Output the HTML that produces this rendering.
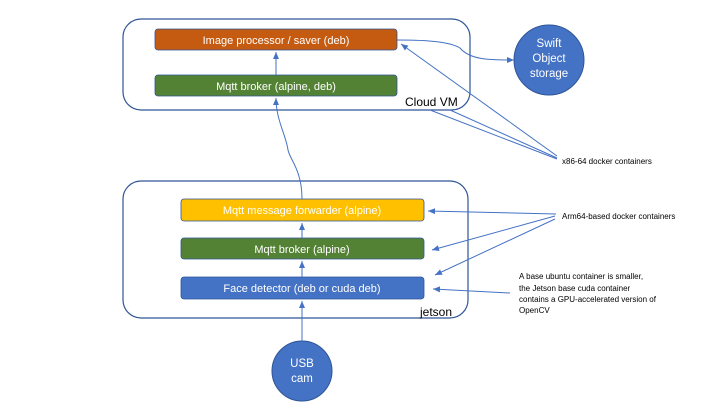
<!DOCTYPE html>
<html><head><meta charset="utf-8"><style>
html,body{margin:0;padding:0;background:#fff;}
svg{display:block;font-family:"Liberation Sans",sans-serif;}
</style></head><body>
<svg width="720" height="405" viewBox="0 0 720 405" xmlns="http://www.w3.org/2000/svg">
<defs>
<marker id="a" markerWidth="8" markerHeight="8" refX="7" refY="4" orient="auto" markerUnits="userSpaceOnUse">
<path d="M0,1 L7,4 L0,7 z" fill="#4472C4"/></marker>
</defs>
<rect x="123" y="19" width="347" height="91" rx="18" fill="#fff" stroke="#2F5597" stroke-width="1.2"/>
<rect x="123" y="181" width="345" height="137" rx="18" fill="#fff" stroke="#2F5597" stroke-width="1.2"/>
<rect x="155" y="29" width="242" height="21" rx="3" fill="#C55A11" stroke="#2F5597" stroke-width="0.8"/>
<text x="276" y="44" font-size="11" fill="#fff" text-anchor="middle">Image processor / saver (deb)</text>
<rect x="155" y="75" width="242" height="21" rx="3" fill="#548235" stroke="#2F5597" stroke-width="0.8"/>
<text x="276" y="90" font-size="11" fill="#fff" text-anchor="middle">Mqtt broker (alpine, deb)</text>
<text x="405" y="106" font-size="12" fill="#000">Cloud VM</text>
<circle cx="549" cy="60" r="35" fill="#4472C4" stroke="#2F5597"/>
<text x="549" y="47" font-size="11.5" fill="#fff" text-anchor="middle">Swift</text>
<text x="549" y="62" font-size="11.5" fill="#fff" text-anchor="middle">Object</text>
<text x="549" y="77" font-size="11.5" fill="#fff" text-anchor="middle">storage</text>
<rect x="181" y="199" width="243" height="22" rx="3" fill="#FFC000" stroke="#2F5597" stroke-width="0.8"/>
<text x="302" y="214" font-size="11" fill="#fff" text-anchor="middle">Mqtt message forwarder (alpine)</text>
<rect x="181" y="238" width="243" height="21" rx="3" fill="#548235" stroke="#2F5597" stroke-width="0.8"/>
<text x="302" y="253" font-size="11" fill="#fff" text-anchor="middle">Mqtt broker (alpine)</text>
<rect x="181" y="277" width="243" height="22" rx="3" fill="#4472C4" stroke="#2F5597" stroke-width="0.8"/>
<text x="302" y="292" font-size="11" fill="#fff" text-anchor="middle">Face detector (deb or cuda deb)</text>
<text x="420" y="316" font-size="12" fill="#000">jetson</text>
<circle cx="302" cy="371" r="30" fill="#4472C4" stroke="#2F5597"/>
<text x="302" y="367" font-size="11.5" fill="#fff" text-anchor="middle">USB</text>
<text x="302" y="382" font-size="11.5" fill="#fff" text-anchor="middle">cam</text>
<g stroke="#4472C4" stroke-width="1" fill="none" marker-end="url(#a)">
<path d="M276 75 L276 52"/>
<path d="M302 199 C302 170 290 160 288 150 C286 135 276 120 276 98"/>
<path d="M302 341 L302 301"/>
<path d="M302 277 L302 261"/>
<path d="M302 238 L302 223"/>
<path d="M397 40 C430 40 450 42 460 48 C470 60 490 60 514 60"/>
<path d="M557 156 L401 44"/>
<path d="M556 214 L428 211"/>
<path d="M555 216 L432 250"/>
<path d="M555 219 L435 275"/>
<path d="M510 293 L433 289"/>
</g>
<g stroke="#4472C4" stroke-width="1" fill="none">
<path d="M557 158 L450 110"/>
<path d="M557 159 L430 110"/>
</g>
<text x="562" y="164" font-size="8" fill="#000">x86-64 docker containers</text>
<text x="562" y="219" font-size="8" fill="#000">Arm64-based docker containers</text>
<text font-size="8" fill="#000"><tspan x="519" y="279">A base ubuntu container is smaller,</tspan><tspan x="519" y="291">the Jetson base cuda container</tspan><tspan x="519" y="302">contains a GPU-accelerated version of</tspan><tspan x="519" y="313">OpenCV</tspan></text>
</svg>
</body></html>
